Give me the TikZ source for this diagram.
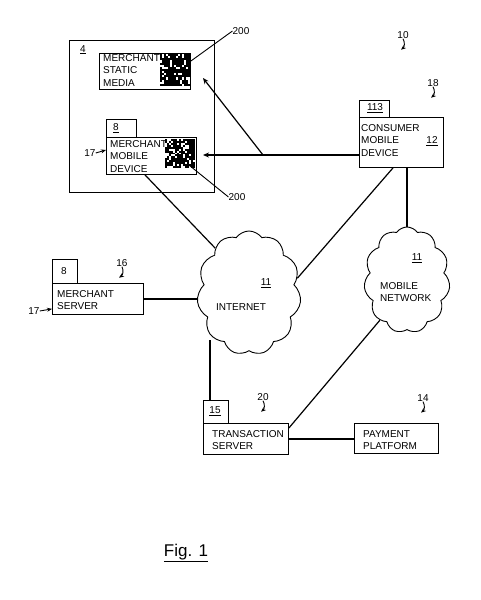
\documentclass[tikz,border=0pt]{standalone}
\usepackage{fontspec}
\setmainfont{Liberation Sans}
\usetikzlibrary{shapes.symbols,arrows.meta,calc}
\begin{document}
\begin{tikzpicture}[x=1pt,y=-1pt,
  every node/.style={font=\fontsize{10}{12.5}\selectfont, inner sep=0pt},
  box/.style={draw, line width=0.9pt, rectangle, anchor=north west},
  txt/.style={anchor=north west, align=left},
  net/.style={draw, cloud, cloud puffs=11, cloud puff arc=110, cloud ignores aspect, line width=0.9pt},
  conn/.style={line width=1.2pt},
  ref/.style={line width=0.9pt,-{Stealth[length=5pt,width=4pt]}},
]
\useasboundingbox[fill=white] (0,0) rectangle (480,600);

% merchant premises box 4
\node[box, minimum width=145pt, minimum height=152pt] (b4) at (69,40) {};
\node[txt] (l4) at (80,45) {\underline{4}};

% merchant static media
\node[box, minimum width=91pt, minimum height=36pt] (sm) at (99,53) {};
\node[txt] (smt) at (103,54) {MERCHANT\\STATIC\\MEDIA};
\node[anchor=north west, minimum width=30pt, minimum height=32pt] (qr1) at (160,54) {};

% merchant mobile device
\node[box, minimum width=30pt, minimum height=18pt] (mmtab) at (106,119) {};
\node (mmtabl) at (116,128) {\underline{8}};
\node[box, minimum width=90pt, minimum height=37pt] (mmd) at (106,137) {};
\node[txt] (mmdt) at (110,140) {MERCHANT\\MOBILE\\DEVICE};
\node[anchor=north west, minimum width=30pt, minimum height=29pt] (qr2) at (165,139) {};

% QR codes
\pgfmathsetseed{17}
\foreach \i in {0,...,14}{\foreach \j in {0,...,14}{
  \pgfmathtruncatemacro\qb{rnd>0.22}
  \ifnum\qb=1 \fill ($(qr1.north west)+(\i*2,\j*2.13)$) rectangle ++(2.05,2.18);\fi
  \pgfmathtruncatemacro\qc{rnd>0.22}
  \ifnum\qc=1 \fill ($(qr2.north west)+(\i*2,\j*1.93)$) rectangle ++(2.05,1.98);\fi
}}

% 200 labels
\node (l200a) at (241,31) {200};
\draw[line width=0.9pt] ([yshift=-8pt]sm.north east) -- (l200a.west);
\node (l200b) at (237,197) {200};
\draw[line width=0.9pt] ([shift={(-6pt,3pt)}]qr2.south east) -- (l200b.west);

% 17 for mobile device
\node (l17a) at (90,153) {17};
\draw[ref] (l17a.east) -- ([yshift=-13pt]mmd.north west);

% consumer mobile device
\node[box, minimum width=30pt, minimum height=17pt] (cmtab) at (359,100) {};
\node (cmtabl) at (375,108) {\underline{113}};
\node[box, minimum width=84pt, minimum height=50pt] (cmd) at (359,117) {};
\node[txt] (cmdt) at (361,124) {CONSUMER\\MOBILE\\DEVICE};
\node (l12) at (432,141) {\underline{12}};

% reference numbers
\node (l10) at (403,35) {10};
\draw[ref] (l10.south) to[bend left=40] ++(-2,11);
\node (l18) at (433,83) {18};
\draw[ref] (l18.south) to[bend left=40] ++(-2,11);

% clouds
\node[net, minimum width=104pt, minimum height=124pt] (inet) at (249,293) {};
\node (inet11) at (266,283) {\underline{11}};
\node (inett) at (241,307) {INTERNET};
\node[net, minimum width=86pt, minimum height=106pt] (mnet) at (407,280) {};
\node (mnet11) at (417,258) {\underline{11}};
\node[txt] (mnett) at (380,282) {MOBILE\\NETWORK};

% merchant server
\node[box, minimum width=25pt, minimum height=24pt] (mstab) at (52,259) {};
\node (mstabl) at (64,271) {8};
\node[box, minimum width=91pt, minimum height=31pt] (ms) at (52,283) {};
\node[txt] (mst) at (57,290) {MERCHANT\\SERVER};
\node (l16) at (122,263) {16};
\draw[ref] (l16.south) to[bend left=40] ++(-3,11);
\node (l17b) at (34,311) {17};
\draw[ref] (l17b.east) -- ([yshift=6pt]ms.south west);

% transaction server
\node[box, minimum width=25pt, minimum height=23pt] (tstab) at (203,400) {};
\node (tstabl) at (215,411) {\underline{15}};
\node[box, minimum width=85pt, minimum height=31pt] (ts) at (203,423) {};
\node[txt] (tst) at (212,430) {TRANSACTION\\SERVER};
\node (l20) at (263,397) {20};
\draw[ref] (l20.south) to[bend left=40] ++(-2,11);

% payment platform
\node[box, minimum width=84pt, minimum height=30pt] (pp) at (354,423) {};
\node[txt] (ppt) at (363,430) {PAYMENT\\PLATFORM};
\node (l14) at (423,398) {14};
\draw[ref] (l14.south) to[bend left=40] ++(-2,11);

% connectors
\coordinate (j) at (263,155);
\coordinate (a1) at (203,155);
\coordinate (a2) at (203,78);
\draw[conn] (cmd.west |- j) -- (j);
\draw[conn,-{Stealth[length=6pt,width=5pt]}] (j) -- (a1);
\draw[conn,-{Stealth[length=6pt,width=5pt]}] (j) -- (a2);
\draw[conn] ([xshift=39pt]mmd.south west) -- (inet.127);
\draw[conn] (ms.east) -- (ms.east -| inet.west);
\draw[conn] ([xshift=34pt]cmd.south west) -- (inet.17);
\draw[conn] (mnet.north |- cmd.south) -- (mnet.north);
\draw[conn] ([xshift=7pt]tstab.north west) -- ([xshift=7pt]tstab.north west |- inet.235);
\draw[conn] ([yshift=-5pt]ts.north east) -- (mnet.236);
\draw[conn] (ts.east) -- (ts.east -| pp.west);

% caption
\node (fig) at (186,553) {\fontsize{17}{20}\selectfont\underline{Fig. 1}};
\end{tikzpicture}
\end{document}
